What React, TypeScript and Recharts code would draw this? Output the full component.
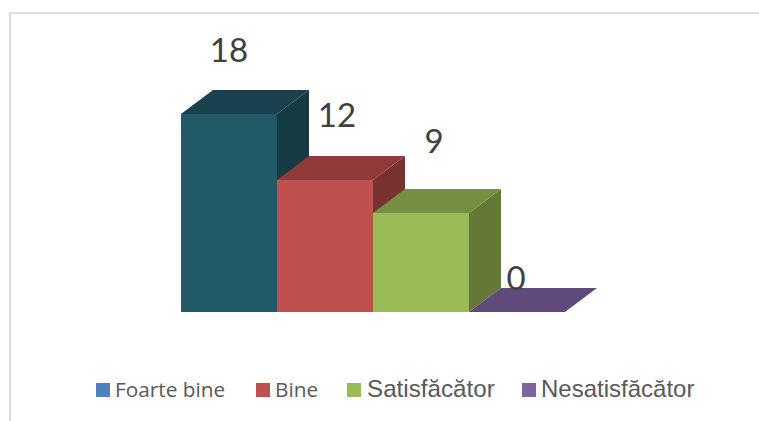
import React from "react";
import { BarChart, Bar, XAxis, YAxis, Legend, LabelList } from "recharts";

const categories = ["Evaluare"];
const seriesNames = ["Foarte bine", "Bine", "Satisfăcător", "Nesatisfăcător"];
const seriesValues = [18, 12, 9, 0];

const faceColors = ["#215968", "#C0504D", "#9BBB59", "#604A7B"];
const topColors = ["#1A424E", "#8F3B39", "#769043", "#604A7B"];
const sideColors = ["#153A44", "#7A3230", "#647838", "#604A7B"];
const legendColors = ["#4F81BD", "#C0504D", "#9BBB59", "#8064A2"];

const labelShift = [
  { dx: 0, dy: -52 },
  { dx: 12, dy: -53 },
  { dx: 13, dy: -60 },
  { dx: -1, dy: -22 },
];
const legendLayout = [
  { swatch: 96, text: 115, font: "'Open Sans'", size: 20.8 },
  { swatch: 256, text: 275, font: "'Open Sans'", size: 20.8 },
  { swatch: 347, text: 367, font: "'Liberation Sans'", size: 24.2 },
  { swatch: 522, text: 541, font: "'Liberation Sans'", size: 24 },
];

const data = categories.map((name) => {
  const row: Record<string, string | number> = { name };
  seriesNames.forEach((s, i) => {
    row[s] = seriesValues[i];
  });
  return row;
});

const DX = 32;
const DY = 24;

function makeBox(i: number) {
  return (p: any) => {
    const { x, y, width, height } = p;
    return (
      <g>
        <polygon
          points={`${x + width},${y} ${x + width + DX},${y - DY} ${x + width + DX},${y + height - DY} ${x + width},${y + height}`}
          fill={sideColors[i]}
        />
        <polygon
          points={`${x},${y} ${x + DX},${y - DY} ${x + width + DX},${y - DY} ${x + width},${y}`}
          fill={topColors[i]}
        />
        <rect x={x} y={y} width={width} height={height} fill={faceColors[i]} />
      </g>
    );
  };
}

function makeLabel(i: number) {
  return (p: any) => (
    <text
      x={p.x + p.width / 2 + labelShift[i].dx}
      y={p.y + labelShift[i].dy}
      textAnchor="middle"
      fontFamily="Lato"
      fontSize={33}
      fill="#404040"
    >
      {p.value}
    </text>
  );
}

function LegendRow() {
  return (
    <div style={{ position: "relative", width: 759, height: 40 }}>
      {seriesNames.map((s, i) => (
        <React.Fragment key={s}>
          <div
            style={{
              position: "absolute",
              left: legendLayout[i].swatch,
              top: 8,
              width: 14,
              height: 14,
              background: legendColors[i],
            }}
          />
          <div
            style={{
              position: "absolute",
              left: legendLayout[i].text,
              top: -1,
              height: 30,
              lineHeight: "30px",
              whiteSpace: "nowrap",
              fontFamily: legendLayout[i].font,
              fontSize: legendLayout[i].size,
              color: "#595959",
            }}
          >
            {s}
          </div>
        </React.Fragment>
      ))}
    </div>
  );
}

export default function App() {
  return (
    <div style={{ position: "fixed", left: 0, top: 0, width: 759, height: 421, overflow: "hidden", background: "#fff" }}>
      <div
        style={{
          position: "absolute",
          left: 9,
          top: 12,
          width: 800,
          height: 500,
          borderLeft: "2px solid #DDDDDD",
          borderTop: "2px solid #DDDDDD",
        }}
      />
      <div style={{ position: "absolute", left: 0, top: 0 }}>
        <BarChart
          width={759}
          height={421}
          data={data}
          margin={{ top: 92, right: 194, bottom: 69, left: 181 }}
          barCategoryGap={0}
          barGap={0}
        >
          <XAxis dataKey="name" hide />
          <YAxis hide domain={[0, 20]} />
          <Legend
            content={<LegendRow />}
            verticalAlign="bottom"
            wrapperStyle={{ position: "absolute", left: 0, top: 375, width: 759 }}
          />
          {seriesNames.map((s, i) => (
            <Bar key={s} dataKey={s} fill={faceColors[i]} shape={makeBox(i)} isAnimationActive={false}>
              <LabelList dataKey={s} content={makeLabel(i)} />
            </Bar>
          ))}
        </BarChart>
      </div>
    </div>
  );
}
